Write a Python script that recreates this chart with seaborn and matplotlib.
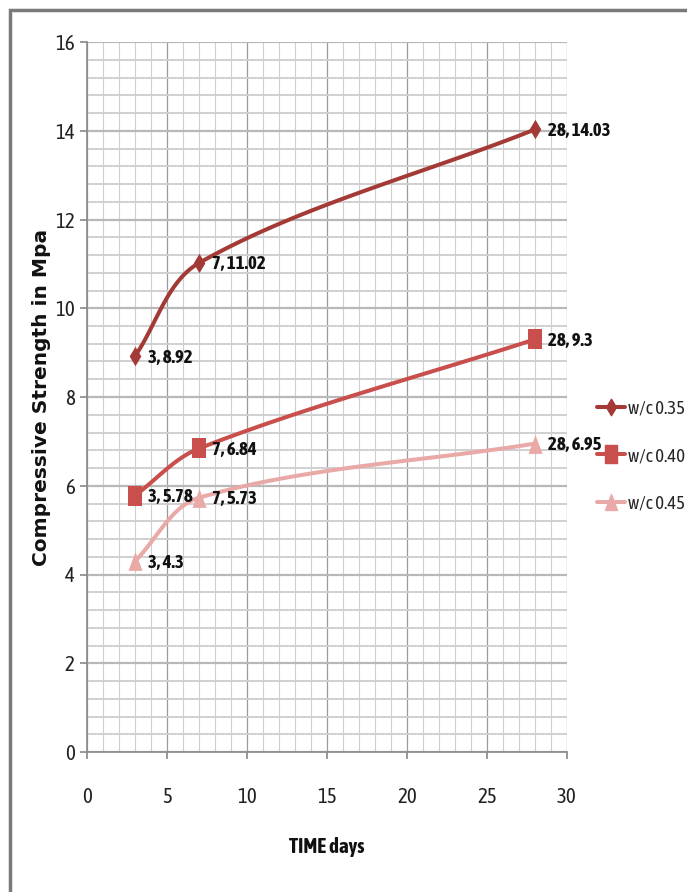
import numpy as np
import pandas as pd
import matplotlib
matplotlib.use("Agg")
import matplotlib.pyplot as plt
from matplotlib import font_manager
from matplotlib.lines import Line2D
from matplotlib.markers import MarkerStyle
from matplotlib.path import Path
from matplotlib.patches import Rectangle
from matplotlib.ticker import MultipleLocator
import seaborn as sns

days = [3, 7, 28]
wc035 = [8.92, 11.02, 14.03]
wc040 = [5.78, 6.84, 9.3]
wc045 = [4.3, 5.73, 6.95]
series_names = ["w/c 0.35", "w/c 0.40", "w/c 0.45"]
colors = ["#A33A36", "#C94F4C", "#E8A9A7"]

sns.set_theme(style="white")
fl = font_manager.fontManager.ttflist
narrow_bold = sorted({f.name for f in fl
                      if ("Narrow" in f.name or "Condensed" in f.name)
                      and (f.weight in ("bold", 700) or (isinstance(f.weight, int) and f.weight >= 600))})
narrow_any = sorted({f.name for f in fl if ("Narrow" in f.name or "Condensed" in f.name)})
font = narrow_bold[0] if narrow_bold else (narrow_any[0] if narrow_any else "Liberation Sans")
plt.rcParams["font.family"] = [font, "DejaVu Sans"]

# tall (vertically stretched) markers as in the reference
diamond = MarkerStyle(Path([(0, -1), (0.6, 0), (0, 1), (-0.6, 0), (0, -1)], closed=True))
square = MarkerStyle(Path([(-0.72, -1), (0.72, -1), (0.72, 1), (-0.72, 1), (-0.72, -1)], closed=True))
triangle = MarkerStyle(Path([(-0.75, -1), (0.75, -1), (0, 1), (-0.75, -1)], closed=True))
markers = [diamond, square, triangle]
msizes = [14, 14.5, 13.5]

fig = plt.figure(figsize=(6.87, 8.92), dpi=100)
ax = fig.add_axes([87 / 687, 1 - 752 / 892, (567 - 87) / 687, (752 - 42) / 892])
ax.set_xlim(0, 30)
ax.set_ylim(0, 16)

ax.xaxis.set_major_locator(MultipleLocator(5))
ax.xaxis.set_minor_locator(MultipleLocator(1))
ax.yaxis.set_major_locator(MultipleLocator(2))
ax.yaxis.set_minor_locator(MultipleLocator(0.4))
ax.grid(which="major", axis="x", color="#9a9a9a", lw=0.9)
ax.grid(which="minor", axis="x", color="#cfcfcf", lw=0.8)
ax.grid(which="major", axis="y", color="#b8b8b8", lw=1.6)
ax.grid(which="minor", axis="y", color="#d0d0d0", lw=1.4)
ax.set_axisbelow(True)
for s in ["top", "right"]:
    ax.spines[s].set_visible(False)
ax.spines["left"].set_color("#8c8c8c")
ax.spines["bottom"].set_color("#8c8c8c")
ax.tick_params(which="major", length=5, color="#8c8c8c", labelsize=15, direction="out",
               labelcolor="#222222")
ax.tick_params(which="minor", length=0)
ax.tick_params(axis="x", which="major", pad=20)
ax.tick_params(axis="y", which="major", pad=4)
ax.set_xticks([0, 5, 10, 15, 20, 25, 30])
ax.tick_params(left=True, bottom=True)

fig.canvas.draw()


def smooth(xs, ys, n=60):
    """Distance-weighted Bezier smoothing (like a spreadsheet 'smoothed line')."""
    P = ax.transData.transform(np.column_stack([xs, ys]))
    k = len(P)
    tangents = []
    for i in range(k):
        a = P[max(i - 1, 0)]
        b = P[min(i + 1, k - 1)]
        tangents.append(b - a)
    out = []
    for i in range(k - 1):
        p1, p2 = P[i], P[i + 1]
        L = np.linalg.norm(p2 - p1)
        Lprev = np.linalg.norm(p1 - P[i - 1]) if i > 0 else 0.0
        Lnext = np.linalg.norm(P[i + 2] - p2) if i + 2 < k else 0.0
        c1 = p1 + tangents[i] * (L / (Lprev + L)) / 3
        c2 = p2 - tangents[i + 1] * (L / (L + Lnext)) / 3
        t = np.linspace(0, 1, n)[:, None]
        seg = (1 - t) ** 3 * p1 + 3 * (1 - t) ** 2 * t * c1 + 3 * (1 - t) * t ** 2 * c2 + t ** 3 * p2
        out.append(seg)
    out = np.vstack(out)
    d = ax.transData.inverted().transform(out)
    return d[:, 0], d[:, 1]


all_series = [wc035, wc040, wc045]
handles = []
for name, vals, c, m, ms in zip(series_names, all_series, colors, markers, msizes):
    sx, sy = smooth(days, vals)
    df_line = pd.DataFrame({"x": sx, "y": sy})
    sns.lineplot(data=df_line, x="x", y="y", ax=ax, color=c, lw=2.9, sort=False,
                 estimator=None, legend=False)
    df_pts = pd.DataFrame({"x": days, "y": vals})
    sns.scatterplot(data=df_pts, x="x", y="y", ax=ax, color=c, marker=m,
                    s=ms ** 2, edgecolor=c, linewidth=0, legend=False, zorder=5)
    for xv, yv in zip(days, vals):
        lbl = f"{xv}, {yv:g}"
        ax.annotate(lbl, (xv, yv), xytext=(9, -1), textcoords="offset points",
                    fontsize=13.5, fontweight="bold", ha="left", va="center",
                    color="#111111")
    handles.append(Line2D([0], [0], color=c, lw=2.9, marker=m, markersize=ms * 0.85,
                          label=name))

ax.set_xlabel("TIME days", fontsize=15, fontweight="bold", labelpad=22, color="#111111")
ax.set_ylabel("Compressive Strength in Mpa", fontsize=14.5, fontweight="bold",
              family=["DejaVu Sans"], labelpad=3, color="#111111")

leg = fig.legend(handles=handles, loc="center left", bbox_to_anchor=(597 / 687, 1 - 456 / 892),
                 frameon=False, fontsize=13.5, handlelength=1.5, handletextpad=0.15,
                 labelspacing=1.55, borderaxespad=0, borderpad=0)

fig.patches.append(Rectangle((10 / 687, -0.01), 1.0, 1 - 10 / 892 + 0.01,
                             transform=fig.transFigure, fill=False,
                             edgecolor="#7a7a7a", lw=2.5))

fig.savefig("out.png", dpi=100)
